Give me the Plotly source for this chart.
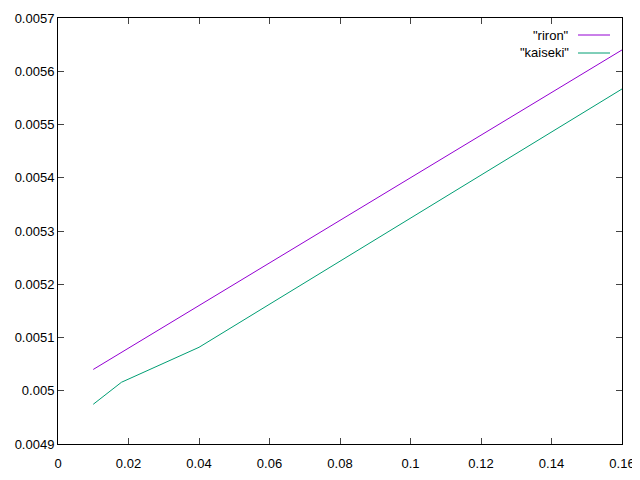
import plotly.graph_objects as go

x_vals = [0.01, 0.018, 0.04, 0.06, 0.08, 0.1, 0.12, 0.14, 0.16]
riron = [0.00504, 0.005072, 0.00516, 0.00524, 0.00532, 0.0054, 0.00548, 0.00556, 0.00564]
kaiseki = [0.0049746, 0.0050159, 0.0050816, 0.0051624, 0.0052432, 0.005324, 0.0054048, 0.0054856, 0.0055667]

x_ticks = [0, 0.02, 0.04, 0.06, 0.08, 0.1, 0.12, 0.14, 0.16]
x_labels = ["0", "0.02", "0.04", "0.06", "0.08", "0.1", "0.12", "0.14", "0.16"]
y_ticks = [0.0049, 0.005, 0.0051, 0.0052, 0.0053, 0.0054, 0.0055, 0.0056, 0.0057]
y_labels = ["0.0049", "0.005", "0.0051", "0.0052", "0.0053", "0.0054", "0.0055", "0.0056", "0.0057"]

series_names = ['"riron"', '"kaiseki"']
colors = ["#9400D3", "#009E73"]

FONT = "Liberation Sans, Arial, sans-serif"

fig = go.Figure()
for name, ys, c in zip(series_names, [riron, kaiseki], colors):
    fig.add_trace(go.Scatter(x=x_vals, y=ys, mode="lines", name=name,
                             line=dict(color=c, width=1), showlegend=False))

# gnuplot-style legend: text right-aligned, sample line to its right
for i, (name, c) in enumerate(zip(series_names, colors)):
    ypix = 35 + i * 18
    yp = 1 - (ypix - 18) / 426
    fig.add_annotation(xref="paper", yref="paper", x=(571 - 58) / 564, y=yp,
                       text=name, showarrow=False, xanchor="right", yanchor="middle",
                       font=dict(family=FONT, size=13, color="black"))
    fig.add_shape(type="line", xref="paper", yref="paper",
                  x0=(578 - 58) / 564, x1=(610 - 58) / 564, y0=yp, y1=yp,
                  line=dict(color=c, width=1))

axis_common = dict(showline=True, linecolor="black", linewidth=1, mirror="ticks",
                   ticks="inside", ticklen=6, tickcolor="#444", tickwidth=1,
                   showgrid=False, zeroline=False, automargin=False,
                   tickfont=dict(family=FONT, size=13, color="black"))

fig.update_xaxes(range=[0, 0.16], tickvals=x_ticks, ticktext=x_labels,
                 ticklabelstandoff=7, **axis_common)
fig.update_yaxes(range=[0.0049, 0.0057], tickvals=y_ticks, ticktext=y_labels, **axis_common)

# page body has an 8px margin, so the figure is offset by 8px
fig.update_layout(width=632, height=472, margin=dict(l=50, r=18, t=10, b=36),
                  paper_bgcolor="white", plot_bgcolor="white")

fig.write_html("out.html")
